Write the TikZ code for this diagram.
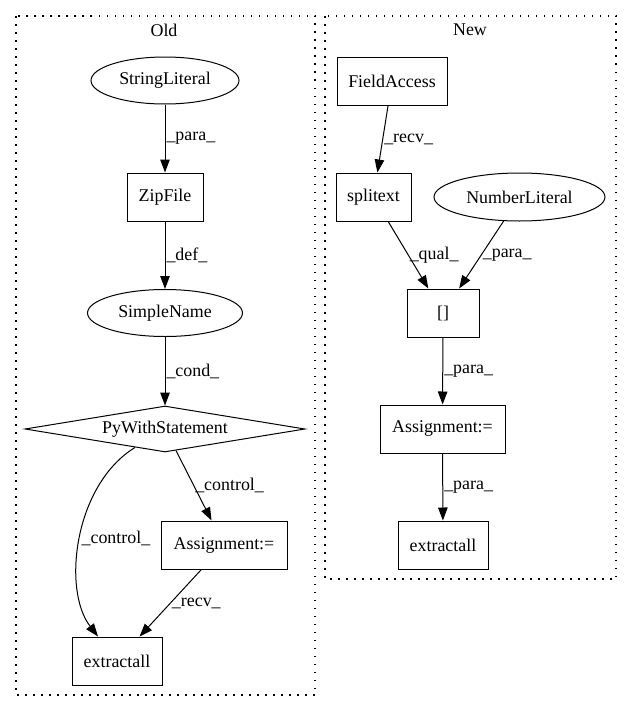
\documentclass[tikz,border=0pt]{standalone}
\usepackage{fontspec}
\setmainfont{Liberation Serif}
\usetikzlibrary{shapes.geometric,arrows.meta}
\tikzset{
  every node/.style={font=\fontsize{17.9pt}{21pt}\selectfont},
  box/.style={draw,line width=1pt,minimum height=48pt},
  oval/.style={draw,ellipse,line width=1pt,inner sep=0pt,minimum height=47pt},
  cond/.style={draw,diamond,line width=1pt,inner sep=0pt,aspect=6,minimum width=280pt,minimum height=46pt},
  cluster/.style={line width=1.2pt,dash pattern=on 1.5pt off 6.5pt},
  lbl/.style={anchor=west,inner sep=1pt},
}
\begin{document}
\begin{tikzpicture}[x=1pt,y=-1pt]
      \useasboundingbox (0,0) rectangle (632,712);
      \draw[cluster] (16,16) rectangle (315,695);
      \draw[cluster] (325,16) rectangle (616,579);
      \node (old) at (164,30) {Old};
      \node (new) at (470,30) {New};
      \draw
        (165,80.5) node[oval,minimum width=148pt] (0){StringLiteral}
        (165,197) node[box,minimum width=76pt] (1){ZipFile}
        (165,313) node[oval,minimum width=155pt] (2){SimpleName}
        (165,429) node[cond] (3){PyWithStatement}
        (224,545) node[box,minimum width=126pt] (4){Assignment:=}
        (117,661) node[box,minimum width=90pt] (5){extractall}
        (392,81) node[box,minimum width=110pt] (6){FieldAccess}
        (373.5,197) node[box,minimum width=75pt] (7){splitext}
        (519.5,197) node[oval,minimum width=171pt,minimum height=48pt] (8){NumberLiteral}
        (443,313) node[box,minimum width=72pt] (9){[]}
        (442.5,429) node[box,minimum width=125pt] (10){Assignment:=}
        (443,545) node[box,minimum width=90pt] (11){extractall};
      \begin{scope}[-{Triangle[length=13pt,width=9.5pt]},line width=1pt]
        \draw (0) to node[lbl]{\_para\_} (1);
        \draw (1) to node[lbl]{\_def\_} (2);
        \draw (2) to node[lbl]{\_cond\_} (3);
        \draw (3) to node[lbl]{\_control\_} (4);
        \draw (3) .. controls (74,485) and (62,590) .. (5) node[lbl,pos=0.5]{\_control\_};
        \draw (4) to node[lbl]{\_recv\_} (5);
        \draw (6) to node[lbl]{\_recv\_} (7);
        \draw (7) to node[lbl]{\_qual\_} (9);
        \draw (8) to node[lbl]{\_para\_} (9);
        \draw (9) to node[lbl]{\_para\_} (10);
        \draw (10) to node[lbl]{\_para\_} (11);
      \end{scope}
\end{tikzpicture}
\end{document}
